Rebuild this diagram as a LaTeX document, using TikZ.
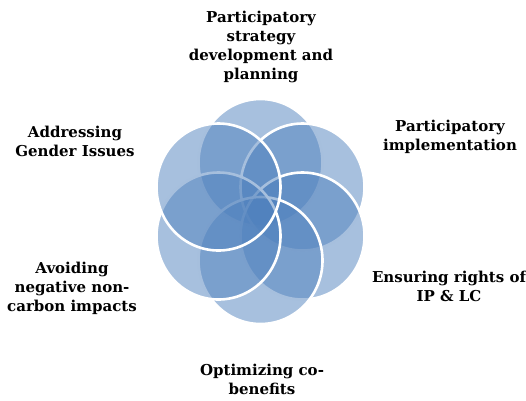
\documentclass[tikz,border=0pt]{standalone}
\usepackage{fontspec}
\setmainfont{DejaVu Serif}
\usetikzlibrary{calc}
\begin{document}
\begin{tikzpicture}[x=1pt,y=-1pt,
  petal/.style={fill=petalblue,fill opacity=0.5,draw=white,line width=2.6pt},
  caption/.style={align=center,font=\fontsize{15}{19}\selectfont\bfseries,text=black,inner sep=0pt}]
\definecolor{petalblue}{HTML}{4F81BD}
\useasboundingbox (0,0) rectangle (526,400);
% six overlapping circles around the hub, drawn clockwise from the top
% (the y axis points down: negative offsets go up)
\coordinate (hub) at (260.5,211.5);
\foreach \dx/\dy in {0/-49,42/-24.5,42/24.5,0/49,-42/24.5,-42/-24.5}{
  \path[petal] ($(hub)+(\dx,\dy)$) ellipse[x radius=62,y radius=63.5];
}
% labels
\node[caption] (t1) at (261,47) {Participatory\\strategy\\development and\\planning};
\node[caption] (t2) at (450,137) {Participatory\\implementation};
\node[caption] (t3) at (449,286) {Ensuring rights of\\IP \& LC};
\node[caption] (t4) at (262,379) {Optimizing co-\\benefits};
\node[caption] (t5) at (72,288) {Avoiding\\negative non-\\carbon impacts};
\node[caption] (t6) at (75,141) {Addressing\\Gender Issues};
\end{tikzpicture}
\end{document}
